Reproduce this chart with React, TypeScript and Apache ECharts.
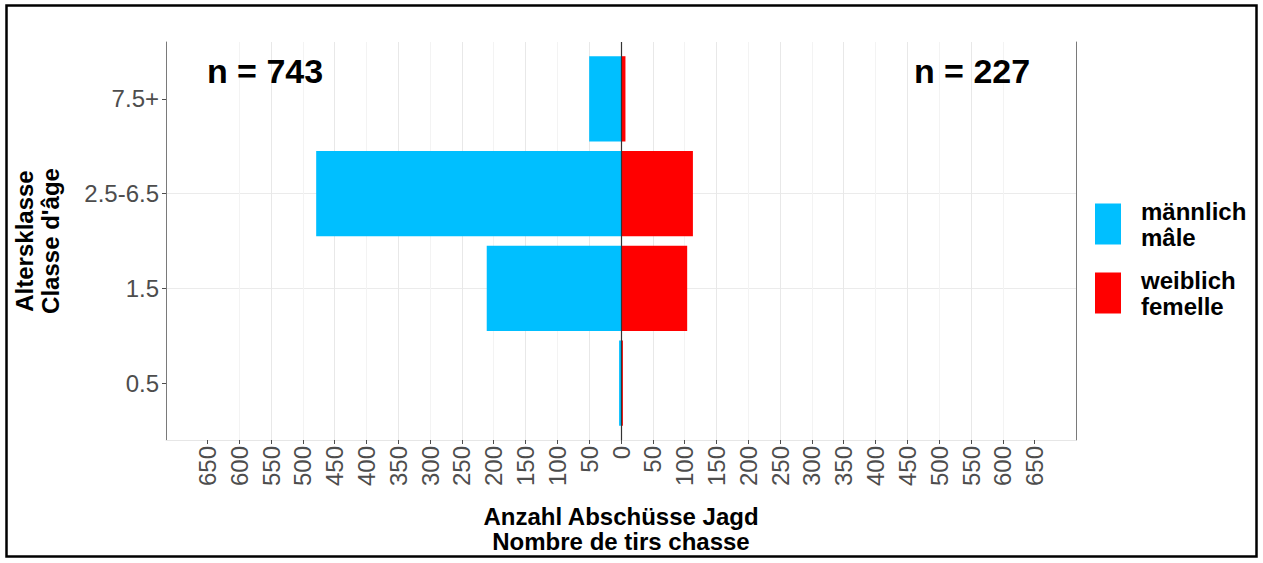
import React, { useEffect, useRef } from "react";
import * as echarts from "echarts";

const categories = ["0.5", "1.5", "2.5-6.5", "7.5+"];
const maleValues = [3, 211, 479, 50];
const femaleValues = [3, 104, 113, 7];
const maleName = "männlich\nmâle";
const femaleName = "weiblich\nfemelle";
const xTickValues = [-650, -600, -550, -500, -450, -400, -350, -300, -250, -200, -150, -100, -50, 0, 50, 100, 150, 200, 250, 300, 350, 400, 450, 500, 550, 600, 650];
const yTickValues = [1, 2, 3, 4];
const maleTotalLabel = "n = 743";
const femaleTotalLabel = "n = 227";
const xTitle = "Anzahl Abschüsse Jagd\nNombre de tirs chasse";
const yTitle = "Altersklasse\nClasse d'âge";

const FONT = "'Liberation Sans', Arial, Helvetica, sans-serif";

function makeRender(color: string) {
  return (params: any, api: any) => {
    const v = api.value(0);
    const y = api.value(1);
    const a = api.coord([0, y]);
    const b = api.coord([v, y]);
    const h = api.size([0, 0.9])[1];
    return {
      type: "rect",
      shape: {
        x: Math.min(a[0], b[0]),
        y: a[1] - h / 2,
        width: Math.abs(b[0] - a[0]),
        height: h,
      },
      style: { fill: color },
    };
  };
}

export default function App() {
  const ref = useRef<HTMLDivElement>(null);
  useEffect(() => {
    if (!ref.current) return;
    const chart = echarts.init(ref.current, undefined, { renderer: "svg" });
    const maleData = categories.map((c, i) => [-maleValues[i], i + 1]);
    const femaleData = categories.map((c, i) => [femaleValues[i], i + 1]);
    chart.setOption({
      animation: false,
      backgroundColor: "#ffffff",
      grid: { left: 166, right: 187, top: 42, bottom: 123, containLabel: false },
      xAxis: {
        type: "value",
        min: -715,
        max: 715,
        minInterval: 25,
        maxInterval: 25,
        axisLine: { show: true, onZero: false, lineStyle: { color: "#e6e6e6", width: 1 } },
        axisTick: { show: true, length: 4, lineStyle: { color: "#4d4d4d" }, customValues: xTickValues },
        axisLabel: {
          rotate: 90,
          margin: 6,
          fontSize: 24,
          color: "#4d4d4d",
          fontFamily: FONT,
          customValues: xTickValues,
          formatter: (v: number) => (Math.abs(v) <= 650 && v % 50 === 0 ? String(Math.abs(v)) : ""),
        },
        splitLine: {
          show: true,
          showMinLine: false,
          showMaxLine: false,
          lineStyle: { color: ["#f3f3f3", "#e8e8e8"], width: 1 },
        },
      },
      yAxis: [
        {
          type: "value",
          min: 0.4,
          max: 4.6,
          minInterval: 1,
          maxInterval: 1,
          axisLine: { show: true, onZero: false, lineStyle: { color: "#7a7a7a", width: 1 } },
          axisTick: { show: true, length: 4, lineStyle: { color: "#4d4d4d" }, customValues: yTickValues },
          axisLabel: {
            margin: 7,
            fontSize: 24,
            color: "#4d4d4d",
            fontFamily: FONT,
            customValues: yTickValues,
            formatter: (v: number) => (Number.isInteger(v) && v >= 1 && v <= categories.length ? categories[v - 1] : ""),
          },
          splitLine: {
            show: true,
            showMinLine: false,
            showMaxLine: false,
            lineStyle: { color: "#ebebeb", width: 1 },
          },
        },
        {
          type: "value",
          position: "right",
          min: 0.4,
          max: 4.6,
          axisLine: { show: true, onZero: false, lineStyle: { color: "#7a7a7a", width: 1 } },
          axisTick: { show: false },
          axisLabel: { show: false },
          splitLine: { show: false },
        },
      ],
      legend: {
        orient: "vertical",
        left: 1095,
        top: 198,
        padding: 0,
        itemWidth: 26,
        itemHeight: 41,
        itemGap: 17,
        icon: "rect",
        selectedMode: false,
        data: [maleName, femaleName],
        textStyle: {
          fontSize: 24,
          fontWeight: "bold",
          color: "#000000",
          fontFamily: FONT,
          lineHeight: 26,
          padding: [0, 0, 0, 15],
        },
      },
      series: [
        {
          name: maleName,
          type: "custom",
          renderItem: makeRender("#00BFFF"),
          itemStyle: { color: "#00BFFF" },
          encode: { x: 0, y: 1 },
          data: maleData,
          z: 2,
          silent: true,
        },
        {
          name: femaleName,
          type: "custom",
          renderItem: makeRender("#FF0000"),
          itemStyle: { color: "#FF0000" },
          encode: { x: 0, y: 1 },
          data: femaleData,
          z: 3,
          silent: true,
          markLine: {
            silent: true,
            symbol: ["none", "none"],
            label: { show: false },
            lineStyle: { color: "#333333", width: 1.2, type: "solid" },
            data: [{ xAxis: 0 }],
          },
        },
      ],
      graphic: [
        {
          type: "rect",
          shape: { x: 6.5, y: 5.5, width: 1250, height: 551 },
          style: { fill: "none", stroke: "#000000", lineWidth: 2.5 },
          silent: true,
          z: 100,
        },
        {
          type: "text",
          x: 265,
          y: 71,
          style: { text: maleTotalLabel, font: `bold 34px ${FONT}`, fill: "#000", align: "center", verticalAlign: "middle" },
          z: 100,
        },
        {
          type: "text",
          x: 972,
          y: 71,
          style: { text: femaleTotalLabel, font: `bold 34px ${FONT}`, fill: "#000", align: "center", verticalAlign: "middle" },
          z: 100,
        },
        {
          type: "text",
          x: 621,
          y: 529,
          style: { text: xTitle, font: `bold 24px ${FONT}`, fill: "#000", align: "center", verticalAlign: "middle", lineHeight: 25 },
          z: 100,
        },
        {
          type: "text",
          x: 37,
          y: 241,
          rotation: Math.PI / 2,
          style: { text: yTitle, font: `bold 24px ${FONT}`, fill: "#000", align: "center", verticalAlign: "middle", lineHeight: 26 },
          z: 100,
        },
      ],
    });
    return () => chart.dispose();
  }, []);
  return (
    <div
      ref={ref}
      style={{ position: "fixed", left: 0, top: 0, width: 1263, height: 563, background: "#fff" }}
    />
  );
}
